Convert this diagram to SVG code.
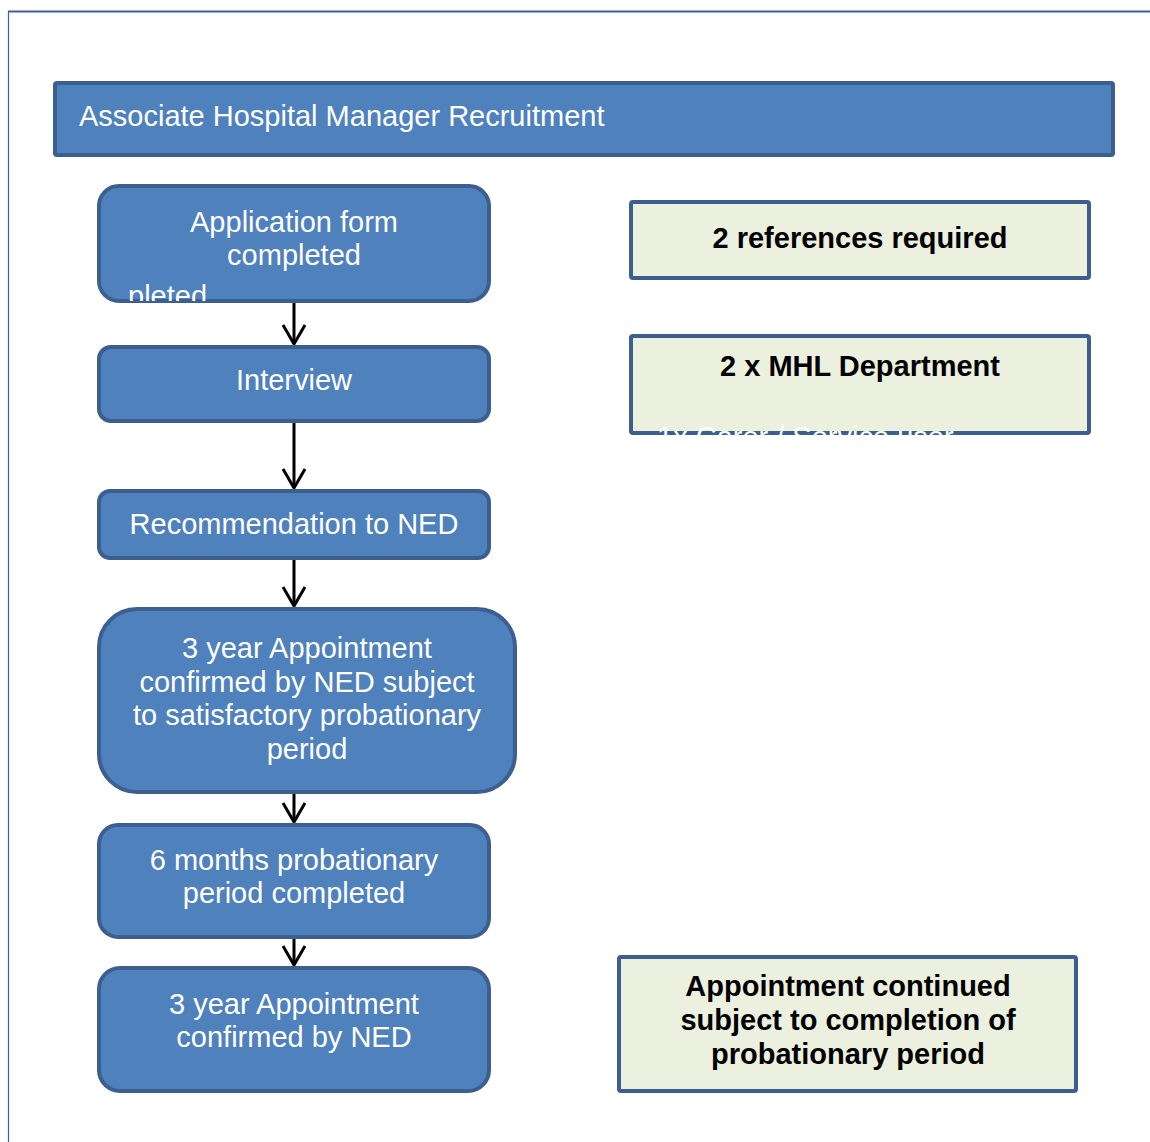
<svg xmlns="http://www.w3.org/2000/svg" width="1150" height="1142" viewBox="0 0 1150 1142">
<style>
.blue{fill:#4f81bd;stroke:#3c5f8f;stroke-width:4}
.green{fill:#ebf1de;stroke:#3c5f8f;stroke-width:4}
.wt{font-family:"Liberation Sans",Arial,sans-serif;font-size:29px;fill:#ffffff;text-anchor:middle}
.bt{font-family:"Liberation Sans",Arial,sans-serif;font-size:29px;font-weight:bold;fill:#000000;text-anchor:middle}
.conn{stroke:#000000;stroke-width:3;fill:none}
</style>
<defs>
<marker id="arr" viewBox="0 0 22 24" refX="20" refY="12" markerWidth="22" markerHeight="24" markerUnits="userSpaceOnUse" orient="auto">
<path d="M1,1 L20,12 L1,23" fill="none" stroke="#000" stroke-width="3"/>
</marker>
<clipPath id="clipApp"><rect x="99" y="186" width="390" height="115" rx="20"/></clipPath>
<clipPath id="clipMhl"><rect x="629" y="334" width="462" height="101"/></clipPath>
</defs>
<rect x="0" y="0" width="1150" height="1142" fill="#ffffff"/>
<g id="frame">
<line x1="8" y1="11.5" x2="1150" y2="11.5" stroke="#3f5f9a" stroke-width="2"/>
<line x1="8.5" y1="11" x2="8.5" y2="1142" stroke="#3f5f9a" stroke-width="1.2"/>
</g>
<g id="header">
<rect class="blue" x="55" y="83" width="1058" height="72" rx="2"/>
<text class="wt" x="79" y="126" style="text-anchor:start">Associate Hospital Manager Recruitment</text>
</g>
<g id="connectors">
<line class="conn" x1="294" y1="301" x2="294" y2="344" marker-end="url(#arr)"/>
<line class="conn" x1="294" y1="421" x2="294" y2="488" marker-end="url(#arr)"/>
<line class="conn" x1="294" y1="558" x2="294" y2="606" marker-end="url(#arr)"/>
<line class="conn" x1="294" y1="792" x2="294" y2="822" marker-end="url(#arr)"/>
<line class="conn" x1="294" y1="937" x2="294" y2="965" marker-end="url(#arr)"/>
</g>
<g id="node-application">
<rect class="blue" x="99" y="186" width="390" height="115" rx="20"/>
<text class="wt" x="294" y="232">Application form</text>
<text class="wt" x="294" y="265">completed</text>
<text class="wt" x="128" y="306" clip-path="url(#clipApp)" style="text-anchor:start">pleted</text>
</g>
<g id="node-interview">
<rect class="blue" x="99" y="347" width="390" height="74" rx="12"/>
<text class="wt" x="294" y="390">Interview</text>
</g>
<g id="node-recommendation">
<rect class="blue" x="99" y="491" width="390" height="67" rx="11"/>
<text class="wt" x="294" y="534">Recommendation to NED</text>
</g>
<g id="node-3year-subject">
<rect class="blue" x="99" y="609" width="416" height="183" rx="38"/>
<text class="wt" x="307" y="658">3 year Appointment</text>
<text class="wt" x="307" y="692">confirmed by NED subject</text>
<text class="wt" x="307" y="725">to satisfactory probationary</text>
<text class="wt" x="307" y="759">period</text>
</g>
<g id="node-6months">
<rect class="blue" x="99" y="825" width="390" height="112" rx="19"/>
<text class="wt" x="294" y="870">6 months probationary</text>
<text class="wt" x="294" y="903">period completed</text>
</g>
<g id="node-3year-confirmed">
<rect class="blue" x="99" y="968" width="390" height="123" rx="21"/>
<text class="wt" x="294" y="1014">3 year Appointment</text>
<text class="wt" x="294" y="1047">confirmed by NED</text>
</g>
<g id="note-references">
<rect class="green" x="631" y="202" width="458" height="76" rx="2"/>
<text class="bt" x="860" y="248">2 references required</text>
</g>
<g id="note-mhl">
<rect class="green" x="631" y="336" width="458" height="97" rx="2"/>
<text class="bt" x="860" y="376">2 x MHL Department</text>
<text class="wt" x="657" y="447" clip-path="url(#clipMhl)" style="text-anchor:start">1x Carer / Service user</text>
</g>
<g id="note-continued">
<rect class="green" x="619" y="957" width="457" height="134" rx="2"/>
<text class="bt" x="848" y="996">Appointment continued</text>
<text class="bt" x="848" y="1030">subject to completion of</text>
<text class="bt" x="848" y="1064">probationary period</text>
</g>
</svg>
